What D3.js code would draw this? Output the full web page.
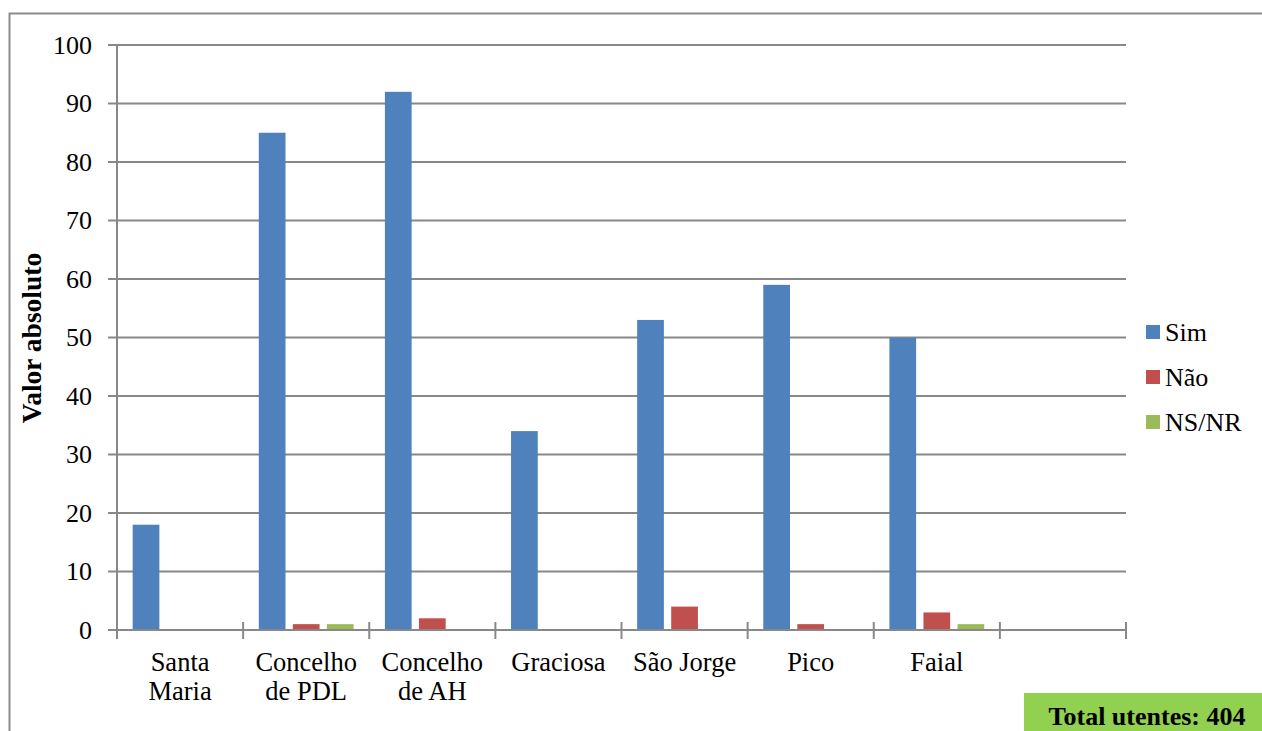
<!DOCTYPE html>
<html><head><meta charset="utf-8">
<script src="https://cdn.jsdelivr.net/npm/d3@7"></script>
<style>body{margin:0;background:#fff;} svg{display:block;}</style>
</head><body>
<svg id="c" width="1262" height="731"></svg>
<script>
const categories = ["Santa Maria", "Concelho de PDL", "Concelho de AH", "Graciosa", "São Jorge", "Pico", "Faial", ""];
const categoryLines = [["Santa","Maria"],["Concelho","de PDL"],["Concelho","de AH"],["Graciosa"],["São Jorge"],["Pico"],["Faial"],[]];
const seriesNames = ["Sim", "Não", "NS/NR"];
const sim = [18, 85, 92, 34, 53, 59, 50, null];
const nao = [0, 1, 2, 0, 4, 1, 3, null];
const nsnr = [0, 1, 0, 0, 0, 0, 1, null];
const yTicks = [0, 10, 20, 30, 40, 50, 60, 70, 80, 90, 100];
const colors = ["#4F81BD", "#C0504D", "#9BBB59"];
const totalLabel = "Total utentes: 404";

const FONT = '"Liberation Serif"';
const svg = d3.select("#c");
const L = 117, R = 1126, T = 45, B = 630;

// outer border
svg.append("path").attr("d", `M9.5,731 V13.5 H1262`).attr("fill","none").attr("stroke","#8c8c8c").attr("stroke-width",2);

const x0 = d3.scaleBand().domain(categories.map((d,i)=>i)).range([L, R]).padding(0);
const x1 = d3.scaleBand().domain(seriesNames).range([0, x0.bandwidth()]).paddingInner(0.215).paddingOuter(0.46);
const y = d3.scaleLinear().domain([0, 100]).range([B, T]);

// gridlines
svg.append("g").selectAll("line").data(yTicks).join("line")
  .attr("x1", L-9).attr("x2", R).attr("y1", d=>y(d)).attr("y2", d=>y(d))
  .attr("stroke", "#888").attr("stroke-width", 2);

// y axis line
svg.append("line").attr("x1",L).attr("x2",L).attr("y1",T).attr("y2",B).attr("stroke","#888").attr("stroke-width",2);

// y tick labels
svg.append("g").selectAll("text").data(yTicks).join("text")
  .attr("x", 92).attr("y", d=>y(d)).attr("dy","0.34em").attr("text-anchor","end")
  .style("font-family", FONT).style("font-size", "26px").attr("fill","#000").text(d=>d);

// bars
const series = [sim, nao, nsnr];
series.forEach((vals, si) => {
  svg.append("g").selectAll("rect").data(vals.map((v,i)=>({v,i})).filter(d=>d.v!==null && d.v>0)).join("rect")
    .attr("x", d=>x0(d.i)+x1(seriesNames[si]))
    .attr("width", x1.bandwidth())
    .attr("y", d=>y(d.v))
    .attr("height", d=>B-y(d.v))
    .attr("fill", colors[si]);
});

// x axis line and ticks
svg.append("line").attr("x1",L).attr("x2",R).attr("y1",B).attr("y2",B).attr("stroke","#888").attr("stroke-width",2);
const bounds = categories.map((d,i)=>x0(i)).concat([R]);
svg.append("g").selectAll("line").data(bounds).join("line")
  .attr("x1", d=>d).attr("x2", d=>d).attr("y1", B-8).attr("y2", B+9)
  .attr("stroke","#888").attr("stroke-width",2);

// category labels
categoryLines.forEach((lines, i) => {
  const cx = x0(i) + x0.bandwidth()/2;
  lines.forEach((ln, j) => {
    svg.append("text").attr("x", cx).attr("y", 671 + j*29).attr("text-anchor","middle")
      .style("font-family", FONT).style("font-size", "26.5px").attr("fill","#000").text(ln);
  });
});

// y axis title
svg.append("text").attr("transform", "translate(41,338) rotate(-90)").attr("text-anchor","middle")
  .style("font-family", FONT).style("font-weight","bold").style("font-size", "27.5px").attr("fill","#000").text("Valor absoluto");

// legend
seriesNames.forEach((s, i) => {
  const cy = 332 + i*45;
  svg.append("rect").attr("x",1146).attr("y",cy-7).attr("width",14).attr("height",14).attr("fill",colors[i]);
  svg.append("text").attr("x",1165).attr("y",cy).attr("dy","0.34em")
    .style("font-family", FONT).style("font-size", "26px").attr("fill","#000").text(s);
});

// total box
svg.append("rect").attr("x",1024).attr("y",693).attr("width",238).attr("height",40).attr("fill","#92D050");
svg.append("text").attr("x",1147).attr("y",725).attr("text-anchor","middle")
  .style("font-family", FONT).style("font-weight","bold").style("font-size", "26px").attr("fill","#000").text(totalLabel);
</script>
</body></html>
